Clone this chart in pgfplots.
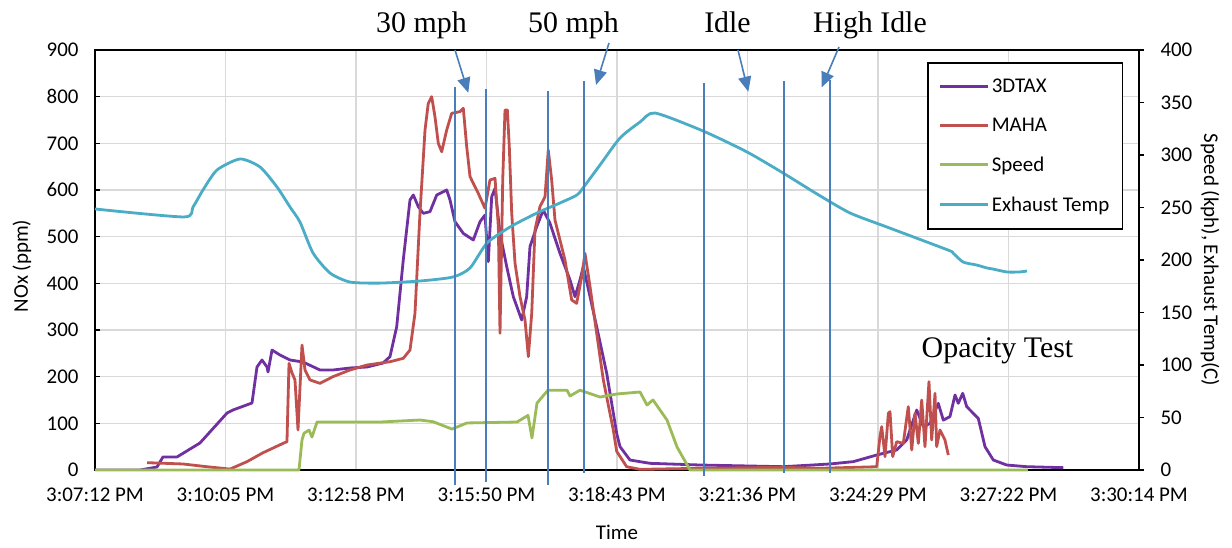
\documentclass[border=0pt]{standalone}
\usepackage{fontspec}
\setmainfont{Carlito}
\newfontfamily\tnr{Liberation Serif}
\usepackage{pgfplots}
\pgfplotsset{compat=1.18}
\usetikzlibrary{arrows.meta}

\definecolor{dtax}{HTML}{7030A0}
\definecolor{maha}{HTML}{C0504D}
\definecolor{speed}{HTML}{9BBB59}
\definecolor{temp}{HTML}{4BACC6}
\definecolor{note}{HTML}{4A7EBB}
\definecolor{gridgray}{HTML}{D9D9D9}

% x in seconds after 3:07:12 PM, one tick every 172.8 s
\pgfplotsset{
  chart/.style={
    scale only axis, width=1044bp, height=420bp,
    xmin=0, xmax=1382.4,
    font=\fontsize{21}{25}\selectfont,
    /pgf/number format/assume math mode=true,
  },
}
\tikzset{
  series/.style={line width=2.8bp, line join=round},
  noteline/.style={note, line width=1.6bp},
  notearrow/.style={noteline, -{Triangle[length=15bp,width=13bp]}},
  notetext/.style={anchor=base, font={\tnr\fontsize{30}{36}\selectfont}},
}

\begin{document}
\begin{tikzpicture}
\begin{axis}[chart, name=ax,
  ymin=0, ymax=900, ytick distance=100,
  xtick={0,172.8,345.6,518.4,691.2,864,1036.8,1209.6,1382.4},
  xticklabels={3:07:12 PM,3:10:05 PM,3:12:58 PM,3:15:50 PM,3:18:43 PM,3:21:36 PM,3:24:29 PM,3:27:22 PM,3:30:14 PM},
  grid=major, grid style={gridgray, line width=1.5bp},
  axis line style={black, line width=1.8bp},
  ytick pos=left, tick align=inside, major tick length=5bp,
  xtick style={/pgfplots/major tick length=0pt},
  ytick style={black, line width=1.5bp},
  xticklabel style={yshift=-14bp},
  yticklabel style={xshift=-13bp},
  xlabel={Time}, ylabel={NOx (ppm)},
  xlabel style={at={(axis description cs:0.5,-0.148)}, anchor=center},
  ylabel style={at={(axis description cs:-0.0699,0.486)}, anchor=center},
  legend style={at={(0.9847,0.9714)}, anchor=north east, draw=black, line width=1.5bp,
    fill=white, font=\fontsize{21}{25}\selectfont, row sep=20bp,
    inner xsep=11bp, inner ysep=14bp, nodes={inner sep=2bp}},
  legend image code/.code={\draw[#1] (0bp,0bp) -- (48bp,0bp);},
  legend cell align=left,
]
\addplot[series, dtax] coordinates {
(0,0) (59.6,0) (82.1,6.4) (90.0,27.9) (108.6,27.9) (139.0,57.9) (174.8,122)
(182.7,128.6) (207.9,143.6) (214.5,220.7) (221.1,235.7) (227.8,220.7) (229.1,210)
(234.4,257) (245.0,246.4) (258.2,235.7) (275.4,231.4) (297.9,214.3) (315.1,214.3)
(337.7,218.6) (360.2,220.7) (381.4,229.3) (390.6,242.9) (399.5,307) (408.2,450)
(417.1,578.6) (421.5,589.3) (428.1,564.3) (434.7,550) (443.6,553.6) (452.5,589.3)
(465.7,600) (470.1,578.6) (476.7,532) (487.7,507) (500.9,492.9) (509.8,532)
(516.4,546.4) (520.8,446.4) (525.3,585.7) (529.7,603.6) (536.3,507) (545.2,435.7)
(553.9,371.4) (565.0,321.4) (571.6,371.4) (576.0,478.6) (584.9,521.4) (593.6,557.1)
(602.5,528.6) (615.7,464.3) (629.0,407.1) (635.6,371.4) (642.2,407.1) (646.6,435.7)
(655.5,371.4) (664.3,307) (677.6,207.1) (690.8,78.6) (695.2,50) (708.4,21.4)
(734.9,14.3) (801.1,10.7) (911.4,7.1) (973.2,12.9) (1004.1,17.9) (1035.1,32.1)
(1061.6,42.9) (1074.8,64.3) (1088.1,128.6) (1096.8,92.9) (1105.7,100) (1116.6,142.9)
(1123.3,107) (1132.1,114.3) (1138.8,160.7) (1143.1,142.9) (1149.0,164.3) (1154.3,135.7)
(1163.0,121.4) (1169.6,110.7) (1178.5,50) (1189.5,21.4) (1207.2,10.7) (1233.7,7.1)
(1282.2,5)
};
\addlegendentry{3DTAX}
\addplot[series, maha] coordinates {
(68.9,15.7) (116.5,12.9) (148.3,7) (178.8,2) (201.3,17.9) (222.5,37) (248.9,57)
(254.2,60.7) (256.9,228.6) (260.9,208) (264.8,193) (268.8,85.7) (274.1,267.9)
(278.1,214.3) (284.7,193) (297.9,185.7) (315.1,200) (337.7,214.3) (360.2,225)
(390.6,232) (408.2,239.3) (417.1,257.1) (423.7,335.7) (430.3,550) (437.0,728.6)
(441.3,785.7) (445.8,800) (450.2,757) (454.6,700) (459.1,682) (465.7,728.6)
(472.3,764.3) (483.3,767.9) (487.7,775) (492.2,692.9) (496.6,628.6) (507.5,592.9)
(516.4,560.7) (523.0,621.4) (529.7,625) (534.1,521.4) (536.3,292.9) (539.9,621.4)
(542.9,771.4) (546.0,771.4) (548.6,692.9) (551.8,550) (556.2,442.9) (562.8,371.4)
(569.4,321.4) (573.8,242.9) (578.3,335.7) (582.6,514.3) (589.2,564.3) (595.9,585.7)
(600.2,685.7) (604.7,621.4) (609.1,535.7) (615.7,492.9) (622.3,450) (631.2,364.3)
(637.8,357.1) (644.5,414.3) (648.8,464.3) (655.5,392.9) (664.3,292.9) (673.1,192.9)
(686.3,85.7) (690.8,40) (704.0,7) (721.7,1.4) (801.1,3.6) (911.0,5.7) (960.0,3.6)
(1035.1,7) (1039.4,71.4) (1041.7,92.9) (1046.1,28.6) (1050.5,121.4) (1052.7,125)
(1056.3,28.6) (1061.6,60.7) (1070.3,57.1) (1076.9,135.7) (1081.5,42.9) (1085.8,121.4)
(1090.2,57.1) (1094.7,150) (1099.0,50) (1104.3,189.3) (1107.9,64.3) (1112.3,164.3)
(1114.5,50) (1118.9,85.7) (1125.5,64.3) (1129.9,32.1)
};
\addlegendentry{MAHA}
\addlegendimage{series, speed}
\addlegendentry{Speed}
\addlegendimage{series, temp}
\addlegendentry{Exhaust Temp}
\end{axis}

\begin{axis}[chart,
  ymin=0, ymax=400, ytick distance=50,
  axis y line*=right, axis x line=none,
  axis line style={black, line width=1.8bp},
  tick align=outside, major tick length=5bp,
  ytick style={black, line width=1.5bp},
  yticklabel style={xshift=13bp},
  ylabel={Speed (kph), Exhaust Temp(C)},
  ylabel style={at={(axis description cs:1.068,0.5)}, rotate=180, anchor=center},
  clip=false,
]
\addplot[series, speed] coordinates {
(0,0) (270.1,0) (274.1,28.6) (276.7,35) (283.4,38) (287.3,31.4) (294.0,45.7)
(311.2,45.7) (377.4,45.7) (430.3,47.6) (447.6,46.0) (472.7,39.0) (492.6,44.8)
(558.8,45.7) (573.4,52.0) (578.6,30.5) (585.3,63.8) (599.8,76.0) (625.0,76.0)
(629.0,70.5) (642.2,76.0) (668.7,69.5) (691.2,72.4) (721.7,74.3) (730.9,61.9)
(738.9,66.7) (757.4,47.6) (770.7,21.9) (787.9,0) (1235.4,0)
};
\addplot[series, temp, smooth, tension=0.4] coordinates {
(0,248.6) (117.8,241.0) (129.8,250.5) (143.0,266.7) (161.5,285.7) (192.0,296.2)
(218.5,288.6) (241.0,269.5) (258.2,250.5) (271.4,236.2) (288.7,206.7) (311.2,187.6)
(337.7,179.0) (377.4,178.0) (430.3,180.0) (474.0,183.8) (496.6,192.4) (519.1,216.2)
(549.5,231.4) (585.3,244.8) (615.7,254.3) (638.2,261.9) (646.2,268.6) (668.7,290.5)
(695.2,316.2) (721.7,331.4) (741.5,340.0) (805.1,322.9) (863.3,302.9) (911.0,282.9)
(956.0,262.9) (999.7,244.8) (1048.7,231.4) (1129.5,209.5) (1136,206.7) (1149.4,198.1)
(1167.5,195.2) (1181.1,192.4) (1189,191.4) (1207.6,188.6) (1224,188.6) (1234.1,189.5)
};
% annotation shapes
\draw[noteline] (axis cs:476.7,-14.3) -- (axis cs:476.7,364.8);
\draw[noteline] (axis cs:517.7,-11.4) -- (axis cs:517.7,362.9);
\draw[noteline] (axis cs:599.8,-14.3) -- (axis cs:599.8,361.0);
\draw[noteline] (axis cs:647.5,-2.9) -- (axis cs:647.5,370.5);
\draw[noteline] (axis cs:806.4,-5.7) -- (axis cs:806.4,368.6);
\draw[noteline] (axis cs:912.3,-2.9) -- (axis cs:912.3,370.5);
\draw[noteline] (axis cs:973.2,-2.9) -- (axis cs:973.2,371.4);
\draw[notearrow] (axis cs:476.7,400) -- (axis cs:494.3,359.3);
\draw[notearrow] (axis cs:680.6,406.7) -- (axis cs:663.4,366.7);
\draw[notearrow] (axis cs:851.4,400) -- (axis cs:865.1,360.3);
\draw[notearrow] (axis cs:985.2,402.9) -- (axis cs:962.3,364.5);
\node[notetext] at (axis cs:432.3,417.1) {30 mph};
\node[notetext] at (axis cs:633.6,417.1) {50 mph};
\node[notetext] at (axis cs:837.5,416.2) {Idle};
\node[notetext] at (axis cs:1026.2,417.1) {High Idle};
\node[notetext] at (axis cs:1195.0,107.6) {Opacity Test};
\end{axis}
\pgfresetboundingbox
\path[use as bounding box] (ax.south west) ++(-95bp,-78bp) rectangle ++(1232bp,548bp);
\end{tikzpicture}
\end{document}
